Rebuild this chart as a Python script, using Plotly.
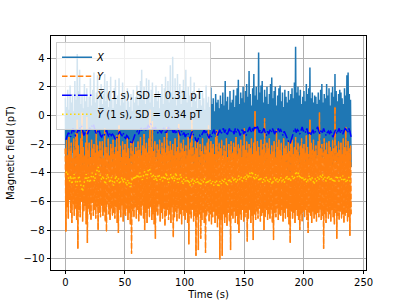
import plotly.graph_objects as go

# Per-second envelope readings (1 s bins, t = 0..239 s)
x_hi = [1.2, 0.6, 1.8, 0.4, 2.1, 0.9, 1.5, 0.3, 2.4, 1.1,
        4.3, 1.7, 3.2, 0.8, 1.4, 0.5, 2.2, 1.0, 1.9, 0.6,
        1.3, 2.6, 0.7, 1.8, 3.0, 0.9, 1.6, 2.8, 0.4, 1.2,
        2.2, 0.8, 1.5, 2.9, 1.0, 2.4, 0.6, 1.7, 2.7, 1.1,
        0.5, 1.9, 2.5, 0.8, 1.4, 2.6, 0.7, 1.2, 2.3, 0.9,
        1.6, 0.4, 1.9, 1.0, 0.6, 1.5, 0.3, 1.8, 0.9, 1.3,
        2.1, 0.7, 1.6, 2.4, 3.2, 1.1, 2.0, 0.8, 2.6, 1.4,
        2.5, 0.9, 1.8, 2.3, 0.6, 1.5, 2.1, 1.0, 1.7, 0.5,
        1.4, 2.2, 0.8, 1.9, 2.7, 1.2, 2.4, 0.9, 3.5, 1.6,
        4.1, 1.3, 2.6, 0.7, 2.9, 1.5, 2.2, 0.8, 1.8, 2.5,
        1.2, 3.2, 0.9, 2.0, 1.4, 2.7, 0.6, 1.7, 2.3, 1.0,
        1.5, 0.5, 1.9, 1.1, 0.7, 1.6, 1.2, 0.4, 2.1, 0.9,
        1.3, 0.6, 1.95, 0.8, 1.2, 0.3, 1.5, 0.9, 1.1, 0.5,
        1.4, 0.8, 1.6, 0.7, 2.4, 1.0, 1.3, 0.4, 1.7, 0.9,
        1.1, 1.8, 0.6, 1.4, 1.9, 2.5, 0.8, 1.6, 1.2, 2.0,
        0.9, 1.7, 2.2, 1.3, 3.1, 1.5, 0.7, 1.9, 2.9, 1.4,
        2.0, 1.1, 4.4, 1.6, 2.1, 2.4, 0.9, 1.8, 1.3, 2.0,
        0.8, 1.5, 2.2, 2.65, 1.2, 1.7, 2.0, 0.7, 1.4, 1.9,
        2.1, 1.0, 1.6, 0.6, 1.8, 1.3, 0.9, 1.7, 1.1, 1.5,
        1.9, 1.2, 2.3, 4.8, 1.6, 2.0, 1.4, 1.8, 0.8, 1.3,
        1.7, 1.0, 2.2, 1.5, 1.9, 3.35, 1.2, 1.6, 0.9, 1.4,
        1.3, 0.8, 1.6, 1.1, 1.8, 2.2, 0.9, 1.5, 1.2, 2.2,
        1.4, 1.9, 0.7, 1.6, 2.0, 1.3, 2.9, 1.7, 1.0, 1.5,
        1.8, 1.6, 1.2, 0.8, 1.9, 1.4, 2.8, 3.0, 1.5, 1.1]

x_lo = [-4.8, -3.1, -2.7, -3.5, -2.9, -3.3, -2.6, -3.8, -3.0, -3.4,
        -2.8, -3.6, -3.2, -2.7, -3.9, -3.0, -3.4, -2.6, -3.3, -3.7,
        -3.1, -2.9, -3.5, -3.0, -2.7, -3.8, -3.2, -2.8, -3.4, -3.1,
        -3.6, -2.8, -3.3, -3.9, -3.0, -2.7, -3.5, -3.2, -2.9, -3.4,
        -3.7, -3.0, -2.8, -3.3, -3.6, -2.9, -3.4, -3.1, -3.8, -3.0,
        -3.2, -3.5, -2.9, -3.7, -4.0, -3.3, -3.6, -3.0, -2.8, -3.4,
        -3.1, -2.7, -3.3, -2.9, -3.5, -3.0, -2.6, -3.2, -2.8, -3.4,
        -2.9, -2.6, -3.1, -3.4, -2.8, -3.2, -3.0, -3.6, -2.7, -3.3,
        -3.0, -3.4, -2.8, -3.1, -3.5, -2.9, -3.2, -2.7, -3.6, -3.0,
        -3.3, -2.9, -3.5, -3.1, -2.8, -3.4, -3.7, -3.0, -3.2, -2.9,
        -3.4, -3.1, -3.6, -3.3, -3.8, -3.0, -3.2, -3.5, -3.7, -3.3,
        -3.9, -3.4, -3.1, -3.6, -3.0, -3.3, -2.8, -3.4, -3.1, -3.5,
        -3.6, -3.2, -3.4, -3.0, -2.8, -3.3, -3.1, -3.5, -3.0, -2.9,
        -3.2, -3.0, -2.8, -3.3, -2.9, -3.5, -3.1, -2.8, -3.2, -3.0,
        -3.1, -3.4, -2.9, -3.2, -3.0, -2.8, -3.5, -3.2, -2.9, -3.3,
        -3.0, -3.4, -3.1, -2.9, -2.7, -3.3, -2.8, -3.1, -2.7, -3.0,
        -2.8, -3.0, -3.3, -3.1, -3.4, -3.2, -2.9, -3.3, -3.5, -3.1,
        -3.3, -3.0, -3.2, -2.9, -3.1, -3.4, -3.0, -3.3, -2.9, -3.1,
        -3.0, -3.3, -3.5, -3.1, -3.4, -3.6, -3.8, -4.0, -4.0, -3.7,
        -3.3, -3.1, -2.9, -3.2, -3.0, -3.1, -3.4, -3.0, -2.8, -3.1,
        -3.0, -3.3, -2.9, -3.4, -3.1, -3.5, -3.2, -3.0, -3.4, -3.1,
        -3.0, -2.8, -3.1, -3.4, -3.0, -3.3, -2.9, -3.1, -3.5, -3.2,
        -3.1, -3.4, -3.0, -3.5, -3.6, -3.2, -3.0, -3.4, -3.1, -2.9,
        -3.3, -3.0, -3.4, -3.1, -2.9, -3.0, -3.3, -2.9, -3.2, -3.6]

y_hi = [-2.3, -1.7, -2.8, -1.5, -2.5, -1.9, -3.0, -1.6, -2.4, -1.2,
        -0.3, -2.1, -2.7, -1.6, 0.2, -2.2, -2.8, -1.9, -0.1, -2.4,
        -1.9, -2.9, -1.7, -2.3, -2.0, -2.6, -1.0, -2.1, -2.5, -1.8,
        -2.4, -1.8, -3.0, -0.9, -2.2, -2.6, -1.6, -2.8, -2.0, -2.3,
        -1.7, -2.7, -2.2, -1.4, -2.5, -0.7, -2.1, -2.9, -1.8, -2.4,
        -2.0, -2.6, -1.6, -2.3, -3.0, -1.9, -2.5, -1.7, -2.7, -2.2,
        -2.5, -1.8, -2.4, -1.5, -2.8, -2.1, -1.3, -2.3, -1.9, -2.6,
        -1.6, 0.4, -2.2, -0.4, -2.5, -1.8, -2.9, -2.0, -2.4, -1.7,
        -2.7, -1.9, -2.3, -1.5, -2.6, -0.8, -2.1, -2.5, -1.8, -2.4,
        -2.0, -2.8, -1.6, -2.5, -2.2, -0.6, -2.6, -1.9, -2.3, -1.7,
        -2.5, -2.1, -2.8, -1.5, -2.4, -1.9, -0.3, -2.2, -2.7, -1.8,
        -2.3, -1.7, -2.9, -2.0, -2.5, -1.6, -2.7, -2.1, -2.4, -1.9,
        -0.7, -2.6, -1.8, -2.3, -2.0, -2.7, -1.5, -1.0, -2.5, -1.9,
        -2.3, -1.7, -2.8, -2.1, -2.5, -1.6, -2.9, -2.0, -2.4, -1.8,
        -2.6, -1.9, -2.2, -1.5, -2.7, -2.0, -2.3, -1.7, -2.9, -2.1,
        -0.9, -2.4, -1.8, -2.6, -2.0, -2.3, -1.6, -2.7, -1.9, 0.3,
        -2.5, -1.8, -2.2, -2.8, -1.7, -2.4, -2.0, -0.2, -2.6, -1.9,
        -2.3, -1.6, -2.7, -2.1, -2.5, -1.8, -2.9, -1.0, -2.2, -1.7,
        -2.4, -1.9, -2.8, -1.6, -2.3, -2.1, -2.6, -1.8, -2.5, -2.0,
        -1.7, -2.7, -2.2, -1.5, -2.4, -1.9, -2.8, -2.1, -1.6, -2.3,
        -2.0, -2.6, -1.4, -2.2, -2.7, -0.3, -1.9, -2.4, -1.7, -2.5,
        -2.1, -2.8, -1.8, 0.2, -2.3, -2.0, -2.6, -1.6, -2.4, -1.9,
        -2.7, -1.8, -2.2, -2.5, -1.7, -2.3, 0.6, -2.1, -2.6, -1.8,
        -2.4, -1.9, -2.7, -1.6, -2.2, -0.8, -2.5, -1.8, -2.3, -2.1]

y_lo = [-8.1, -6.4, -7.2, -5.9, -6.8, -7.5, -6.2, -7.0, -6.5, -7.3,
        -9.3, -6.6, -7.1, -6.0, -7.4, -6.7, -6.3, -7.6, -8.9, -6.5,
        -6.9, -7.3, -6.1, -7.0, -6.6, -7.2, -6.4, -8.0, -6.8, -7.1,
        -6.3, -7.0, -6.7, -7.4, -8.1, -6.2, -6.9, -7.3, -6.5, -7.0,
        -6.8, -7.2, -6.4, -7.5, -8.2, -6.6, -7.1, -6.3, -7.4, -6.9,
        -7.0, -6.5, -7.3, -6.8, -7.6, -9.65, -6.7, -7.1, -6.4, -7.2,
        -6.6, -7.4, -6.9, -7.0, -6.3, -7.2, -8.0, -6.8, -7.5, -6.5,
        -7.1, -6.4, -7.3, -6.9, -7.6, -8.6, -6.7, -7.0, -6.2, -7.4,
        -6.8, -7.2, -6.5, -7.7, -7.0, -6.6, -7.3, -6.9, -7.5, -6.4,
        -8.5, -7.1, -6.7, -7.4, -6.5, -7.2, -6.9, -7.6, -6.6, -7.0,
        -7.3, -6.8, -7.5, -9.0, -6.9, -7.2, -6.6, -7.4, -7.0, -9.8,
        -7.1, -9.4, -6.9, -8.6, -7.3, -6.8, -7.5, -9.6, -7.0, -6.7,
        -7.4, -6.9, -7.6, -7.1, -6.7, -7.5, -7.0, -7.8, -7.2, -10.05,
        -7.3, -9.8, -6.9, -7.5, -7.1, -7.7, -6.8, -7.4, -9.4, -7.0,
        -7.2, -6.7, -7.5, -7.0, -7.6, -8.2, -6.9, -7.3, -6.6, -7.4,
        -7.1, -6.8, -8.8, -7.2, -6.6, -7.5, -7.0, -8.7, -6.9, -7.3,
        -6.7, -7.2, -6.5, -7.4, -7.0, -6.8, -8.0, -7.1, -6.6, -7.3,
        -6.9, -7.2, -6.6, -7.5, -8.7, -6.8, -7.1, -6.5, -7.3, -6.9,
        -7.0, -6.6, -7.4, -6.8, -7.2, -6.5, -7.1, -7.6, -8.9, -6.7,
        -7.2, -6.8, -7.5, -6.6, -7.0, -7.3, -8.0, -6.9, -7.4, -6.7,
        -7.1, -6.6, -7.3, -8.2, -6.8, -7.0, -7.5, -6.7, -7.2, -6.9,
        -7.4, -6.8, -7.1, -6.6, -7.3, -7.0, -9.3, -6.9, -7.5, -6.7,
        -7.2, -6.9, -7.4, -6.6, -7.1, -7.6, -6.8, -8.6, -7.0, -7.3,
        -6.7, -7.2, -6.9, -7.5, -7.0, -6.8, -7.4, -7.1, -8.4, -6.9]

# 1 s averages
x_mean = [-1.7, -1.5, -1.2, -1.3, -1.5, -1.1, -0.9, -1.2, -1.4, -1.3,
          -1.0, -1.1, -0.8, -0.7, -1.2, -1.4, -1.2, -1.0, -1.3, -1.1,
          -0.9, -1.0, -0.7, -0.6, -0.9, -1.2, -1.3, -1.0, -1.1, -1.4,
          -1.5, -1.3, -1.4, -1.2, -1.0, -1.3, -1.5, -1.2, -1.4, -1.3,
          -1.4, -1.6, -1.7, -1.5, -1.3, -1.1, -1.3, -1.4, -1.2, -1.5,
          -1.6, -1.4, -1.5, -1.7, -1.9, -2.0, -1.8, -1.5, -1.3, -1.2,
          -1.1, -1.3, -1.0, -0.9, -1.1, -1.0, -0.8, -1.0, -0.9, -0.7,
          -0.8, -0.6, -0.7, -0.9, -1.0, -0.8, -1.1, -1.2, -1.0, -1.1,
          -1.2, -1.0, -0.9, -1.1, -1.3, -1.0, -0.8, -1.1, -0.9, -1.0,
          -1.2, -1.0, -1.3, -1.1, -0.9, -1.2, -1.4, -1.1, -1.3, -1.2,
          -1.5, -1.3, -1.2, -1.4, -1.6, -1.3, -1.1, -1.4, -1.5, -1.7,
          -1.85, -1.6, -1.4, -1.5, -1.3, -1.2, -1.0, -1.3, -1.1, -1.4,
          -1.6, -1.3, -1.5, -1.2, -1.0, -1.3, -1.1, -1.4, -1.2, -1.0,
          -1.3, -1.1, -0.9, -1.2, -1.0, -1.4, -1.1, -0.9, -1.2, -1.0,
          -1.1, -1.3, -0.9, -1.2, -1.0, -1.1, -1.4, -1.2, -0.9, -1.3,
          -1.1, -1.4, -1.2, -1.0, -0.8, -1.2, -0.9, -1.1, -0.8, -1.0,
          -0.7, -0.9, -1.2, -1.0, -1.3, -1.1, -0.9, -1.2, -1.4, -1.1,
          -1.3, -1.0, -1.2, -0.9, -1.1, -1.3, -1.0, -1.2, -0.9, -1.1,
          -1.0, -1.2, -1.4, -1.1, -1.3, -1.5, -1.7, -1.9, -1.95, -1.6,
          -1.3, -1.1, -0.9, -1.2, -1.0, -1.1, -1.3, -1.0, -0.8, -1.1,
          -1.0, -1.2, -0.9, -1.3, -1.1, -1.4, -1.2, -1.0, -1.3, -1.1,
          -1.0, -0.8, -1.1, -1.3, -1.0, -1.2, -0.9, -1.1, -1.4, -1.2,
          -1.1, -1.3, -1.0, -1.4, -1.5, -1.2, -1.0, -1.3, -1.1, -0.9,
          -1.2, -1.0, -1.3, -1.1, -0.9, -1.0, -1.2, -0.9, -1.1, -1.5]

y_mean = [-4.0, -3.9, -4.3, -4.6, -4.2, -4.8, -4.4, -4.1, -4.6, -4.9,
          -4.5, -4.2, -4.7, -5.0, -5.3, -4.8, -4.4, -4.1, -4.6, -4.3,
          -4.7, -4.4, -4.0, -4.3, -4.6, -4.1, -3.8, -3.6, -4.0, -4.3,
          -4.5, -4.2, -4.6, -4.8, -4.4, -4.1, -4.5, -4.7, -4.3, -4.6,
          -4.9, -4.5, -4.2, -4.6, -4.4, -4.8, -4.5, -4.3, -4.7, -4.4,
          -4.6, -4.9, -4.5, -4.7, -5.0, -4.6, -4.3, -4.5, -4.2, -4.4,
          -4.1, -4.4, -4.0, -4.3, -4.5, -4.2, -3.9, -4.1, -4.4, -3.8,
          -3.7, -4.0, -4.3, -4.1, -4.5, -4.2, -4.6, -4.3, -4.1, -4.5,
          -4.3, -4.6, -4.2, -4.5, -4.0, -4.4, -4.7, -4.3, -4.1, -4.5,
          -4.2, -4.6, -4.0, -4.3, -4.7, -4.4, -4.1, -4.5, -4.8, -4.4,
          -4.6, -4.3, -4.7, -4.5, -4.9, -4.6, -4.4, -4.8, -4.5, -4.7,
          -4.4, -4.8, -4.6, -4.9, -4.5, -4.7, -4.4, -4.6, -4.8, -4.5,
          -4.7, -4.5, -4.8, -4.6, -4.9, -4.7, -4.5, -4.8, -5.0, -4.6,
          -4.8, -4.5, -4.7, -4.4, -4.6, -4.9, -4.6, -4.4, -4.7, -4.5,
          -4.3, -4.6, -4.4, -4.7, -4.5, -4.2, -4.5, -4.3, -4.6, -4.4,
          -4.2, -4.5, -4.1, -4.4, -4.0, -4.3, -3.9, -4.2, -4.5, -4.1,
          -4.4, -4.2, -4.6, -4.3, -4.5, -4.7, -4.4, -4.6, -4.3, -4.5,
          -4.7, -4.4, -4.6, -4.8, -4.5, -4.3, -4.6, -4.4, -4.7, -4.5,
          -4.3, -4.6, -4.4, -4.7, -4.5, -4.2, -4.5, -4.3, -4.6, -4.4,
          -4.2, -4.5, -4.1, -3.9, -4.3, -4.0, -4.4, -4.2, -4.5, -4.3,
          -4.6, -4.4, -4.7, -4.5, -4.2, -4.6, -4.3, -4.5, -4.8, -4.4,
          -4.6, -4.3, -4.5, -4.2, -4.4, -4.1, -4.5, -4.3, -4.6, -4.4,
          -4.2, -4.5, -4.3, -4.6, -4.4, -4.7, -4.5, -4.2, -4.4, -4.6,
          -4.3, -4.5, -4.2, -4.6, -4.4, -4.7, -4.5, -4.3, -4.6, -4.4]

x_ticks = [0, 50, 100, 150, 200, 250]
y_ticks = [-10, -8, -6, -4, -2, 0, 2, 4]
y_ticklabels = ["\u221210", "\u22128", "\u22126", "\u22124", "\u22122", "0", "2", "4"]

labels = ["<i>X</i>", "<i>Y</i>",
          "<i>X\u0305</i> (1 s), SD = 0.31 pT",
          "<i>Y\u0305</i> (1 s), SD = 0.34 pT"]

FS = 10


def zigzag(hi, lo):
    ts, vs = [], []
    for i in range(len(hi)):
        ts += [i, i + 0.5]
        vs += [hi[i], lo[i]]
    return ts, vs


tx, vx = zigzag(x_hi, x_lo)
ty, vy = zigzag(y_hi, y_lo)
tm = [i + 0.5 for i in range(len(x_mean))]

fig = go.Figure()
fig.add_trace(go.Scatter(x=tx, y=vx, mode="lines", name=labels[0],
                         line=dict(color="#1f77b4", width=1.5)))
# thin solid underlay of Y (dense core), then dashed Y on top
fig.add_trace(go.Scatter(x=ty, y=vy, mode="lines", showlegend=False, hoverinfo="skip",
                         line=dict(color="#ff7f0e", width=0.8)))
fig.add_trace(go.Scatter(x=ty, y=vy, mode="lines", name=labels[1],
                         line=dict(color="#ff7f0e", width=1.5, dash="5.5px,2.4px")))
fig.add_trace(go.Scatter(x=tm, y=x_mean, mode="lines", name=labels[2],
                         line=dict(color="#0000ff", width=1.5, dash="9.6px,2.4px,1.5px,2.4px")))
fig.add_trace(go.Scatter(x=tm, y=y_mean, mode="lines", name=labels[3],
                         line=dict(color="#ffd700", width=1.5, dash="1.5px,2.5px")))

axis_common = dict(showline=True, mirror=True, linecolor="black", linewidth=0.8,
                   ticks="outside", ticklen=3.5, tickwidth=0.8, tickcolor="black",
                   showgrid=True, gridcolor="#b0b0b0", gridwidth=0.8, zeroline=False,
                   automargin=False, tickfont=dict(size=FS, color="black"))

fig.update_layout(
    width=407, height=305,
    margin=dict(l=51, r=41, t=36, b=35),
    paper_bgcolor="white", plot_bgcolor="white",
    font=dict(family="DejaVu Sans", size=FS, color="black"),
    showlegend=True,
    legend=dict(x=0.016, y=0.975, xanchor="left", yanchor="top",
                bgcolor="rgba(255,255,255,0.8)", bordercolor="#cccccc", borderwidth=1,
                font=dict(size=FS), tracegroupgap=0, itemwidth=30),
    xaxis=dict(range=[-12, 252], tickmode="array", tickvals=x_ticks,
               title=dict(text="Time (s)", font=dict(size=FS), standoff=3), **axis_common),
    yaxis=dict(range=[-10.79, 5.55], tickmode="array", tickvals=y_ticks, ticktext=y_ticklabels,
               title=dict(text="Magnetic field (pT)", font=dict(size=FS), standoff=6), **axis_common),
)

fig.write_html("out.html", config={"displayModeBar": False},
               post_script="document.body.style.margin='0';")
